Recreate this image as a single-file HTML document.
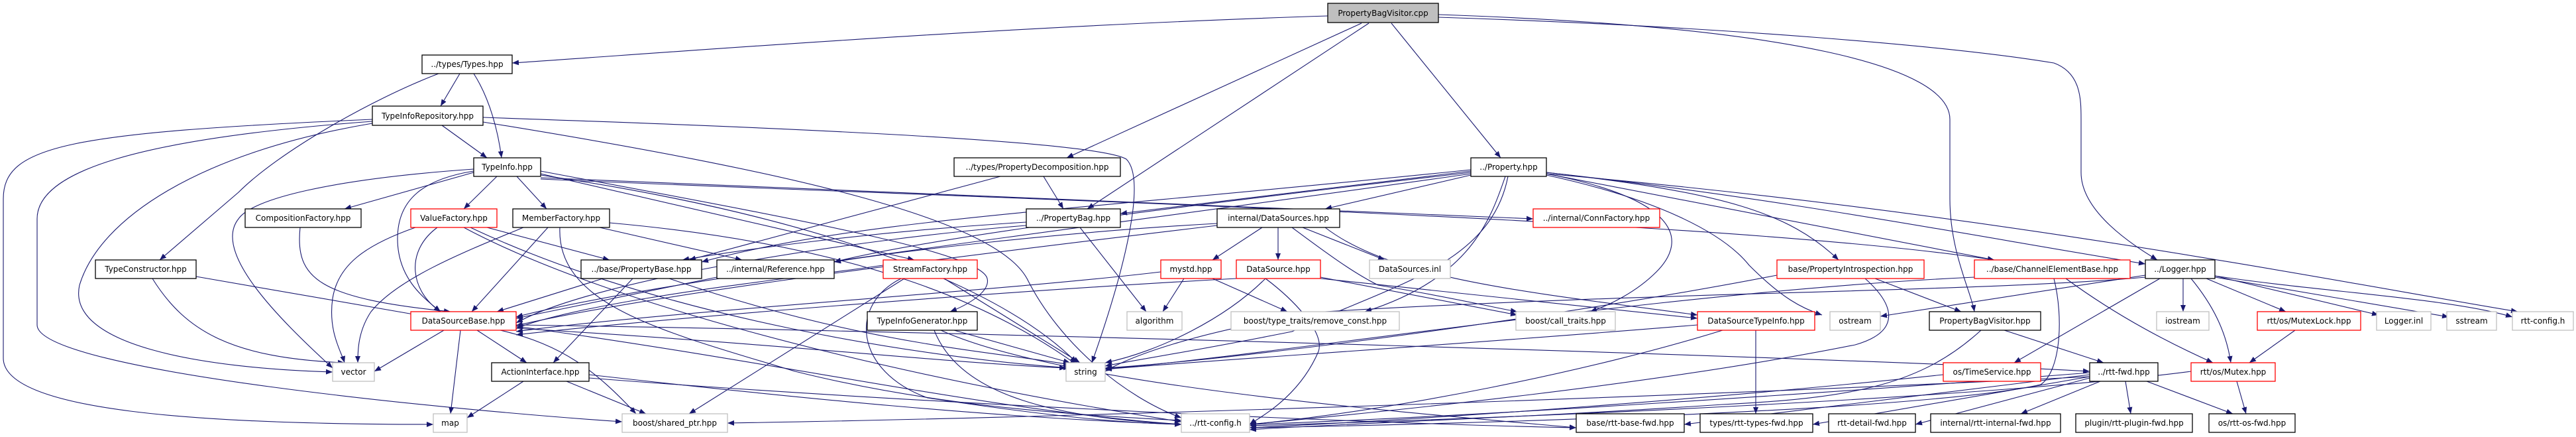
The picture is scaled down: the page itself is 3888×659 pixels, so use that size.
<!DOCTYPE html>
<html><head><meta charset="utf-8"><style>
html,body{margin:0;padding:0;background:#fff;}
svg{display:block;}
text{font-family:"DejaVu Sans","Liberation Sans",sans-serif;font-size:12px;fill:#000;}
.e{fill:none;stroke:#191970;stroke-width:1.1;marker-end:url(#a);}
.n{fill:#fff;stroke:#000;stroke-width:1.3;}
.r{fill:#fff;stroke:#ff0000;stroke-width:1.3;}
.g{fill:#fff;stroke:#bfbfbf;stroke-width:1.3;}
</style></head><body>
<svg width="3888" height="659" viewBox="0 0 3888 659" xmlns="http://www.w3.org/2000/svg">
<defs><marker id="a" viewBox="0 0 10 8" refX="10" refY="4" markerWidth="10" markerHeight="8" markerUnits="userSpaceOnUse" orient="auto"><path d="M0,0 L10,4 L0,8 z" fill="#191970"/></marker></defs>
<g>
<path class="e" d="M2004,24 C1500,40 1000,80 773,95"/>
<path class="e" d="M2055,35 L1610,238"/>
<path class="e" d="M2066,35 L1641,315"/>
<path class="e" d="M2100,35 L2265,238"/>
<path class="e" d="M2171,22 C2700,40 2943,100 2943,180 L2943,300 C2943,380 2975,440 2980,470"/>
<path class="e" d="M2171,26 C2600,40 2950,70 3100,95 C3141,110 3141,150 3141,180 L3141,260 C3141,320 3220,370 3256,392"/>
<path class="e" d="M694,111 L665,160"/>
<path class="e" d="M715,111 C740,150 752,200 757,238"/>
<path class="e" d="M662,111 C560,150 420,230 360,290 L241,392"/>
<path class="e" d="M667,189 L735,238"/>
<path class="e" d="M562,180 C100,200 5,220 5,300 L5,540 C5,620 300,640 654,640"/>
<path class="e" d="M562,183 C200,210 56,260 56,330 L56,490 C56,560 700,620 939,636"/>
<path class="e" d="M562,186 C300,230 150,330 120,430 C100,520 300,555 502,561"/>
<path class="e" d="M729,177 C1100,190 1650,210 1700,240 C1730,270 1700,400 1648,547"/>
<path class="e" d="M729,184 C1200,260 1500,330 1550,420 C1600,520 1700,600 1783,630"/>
<path class="e" d="M715,260 L520,315"/>
<path class="e" d="M750,266 L700,315"/>
<path class="e" d="M780,266 L825,315"/>
<path class="e" d="M715,258 C640,270 600,300 600,360 C600,420 640,450 665,470"/>
<path class="e" d="M715,255 C500,270 380,300 360,330 C320,380 420,480 502,555"/>
<path class="e" d="M816,262 L1380,392"/>
<path class="e" d="M816,258 C1200,330 1480,380 1490,420 C1495,440 1460,460 1434,470"/>
<path class="e" d="M816,264 C1200,320 1500,420 1625,547"/>
<path class="e" d="M816,268 C1500,300 2000,320 2314,330"/>
<path class="e" d="M816,270 C1500,300 2600,330 3010,392"/>
<path class="e" d="M2220,258 L1691,322"/>
<path class="e" d="M2220,264 L2000,315"/>
<path class="e" d="M2220,256 C1600,320 1300,330 1059,395"/>
<path class="e" d="M2220,260 C1700,320 1400,360 1259,395"/>
<path class="e" d="M2220,262 C1600,350 1000,420 779,478"/>
<path class="e" d="M2272,266 C2250,330 2220,420 2060,470"/>
<path class="e" d="M2276,266 C2250,400 2100,430 1950,500 C1800,530 1700,545 1668,552"/>
<path class="e" d="M2334,262 C2530,300 2550,360 2500,410 C2470,440 2430,460 2400,470"/>
<path class="e" d="M2334,260 C2600,290 2700,320 2775,392"/>
<path class="e" d="M2334,262 L3010,392"/>
<path class="e" d="M2334,260 C2700,300 3000,360 3238,398"/>
<path class="e" d="M2334,262 C3000,320 3500,420 3800,470"/>
<path class="e" d="M2334,264 C2500,300 2600,350 2640,400 C2690,450 2720,465 2750,475"/>
<path class="e" d="M453,343 C445,420 480,450 680,470"/>
<path class="e" d="M627,343 C550,370 510,400 502,450 C495,500 515,530 520,547"/>
<path class="e" d="M660,343 C610,380 620,440 665,470"/>
<path class="e" d="M735,343 L920,392"/>
<path class="e" d="M700,343 C900,450 1300,560 1783,636"/>
<path class="e" d="M710,343 C1000,480 1400,540 1615,555"/>
<path class="e" d="M827,343 L712,470"/>
<path class="e" d="M790,343 C700,380 600,420 560,470 C540,500 540,530 540,547"/>
<path class="e" d="M905,343 L1120,392"/>
<path class="e" d="M920,336 C1300,370 1500,460 1625,550"/>
<path class="e" d="M845,343 C840,460 1000,500 1200,560 C1400,610 1600,625 1783,634"/>
<path class="e" d="M230,420 C280,500 350,540 520,547"/>
<path class="e" d="M296,417 L630,475"/>
<path class="e" d="M910,420 L750,470"/>
<path class="e" d="M955,420 L835,547"/>
<path class="e" d="M1010,420 C1300,520 1500,530 1615,550"/>
<path class="e" d="M1082,418 L779,480"/>
<path class="e" d="M1549,335 C1300,350 1100,380 1030,392"/>
<path class="e" d="M1630,343 L1730,470"/>
<path class="e" d="M1549,340 C1300,360 900,420 779,487"/>
<path class="e" d="M1575,266 L1605,315"/>
<path class="e" d="M1510,266 L1040,392"/>
<path class="e" d="M1905,343 L1830,392"/>
<path class="e" d="M1929,343 L1929,392"/>
<path class="e" d="M1966,343 L2090,392"/>
<path class="e" d="M1950,343 C2000,380 2040,410 2080,430 C2200,450 2260,465 2290,470"/>
<path class="e" d="M1837,340 C1500,380 1000,440 779,491"/>
<path class="e" d="M1837,337 C1600,350 1350,380 1259,395"/>
<path class="e" d="M2000,343 C2100,420 2300,440 2562,475"/>
<path class="e" d="M1333,400 C1200,420 900,450 779,495"/>
<path class="e" d="M1425,420 L1630,547"/>
<path class="e" d="M1365,420 L1040,624"/>
<path class="e" d="M1360,420 C1280,460 1290,560 1400,600 C1600,630 1700,638 1783,640"/>
<path class="e" d="M1787,420 L1755,470"/>
<path class="e" d="M1830,420 L1943,470"/>
<path class="e" d="M1752,410 C1500,440 1000,470 779,500"/>
<path class="e" d="M1866,420 C1500,440 1000,480 779,505"/>
<path class="e" d="M1910,420 C1850,480 1750,530 1668,547"/>
<path class="e" d="M1993,418 L2290,475"/>
<path class="e" d="M1993,420 L2562,480"/>
<path class="e" d="M1910,420 C1950,450 2000,500 1990,530 C1960,600 1900,630 1886,640"/>
<path class="e" d="M670,498 L565,560"/>
<path class="e" d="M695,498 L680,624"/>
<path class="e" d="M720,498 L795,547"/>
<path class="e" d="M755,498 C850,520 900,560 960,624"/>
<path class="e" d="M779,492 C1200,550 1500,620 1783,640"/>
<path class="e" d="M779,495 C1200,520 1400,545 1609,555"/>
<path class="e" d="M779,490 C1500,500 2800,540 3154,560"/>
<path class="e" d="M1440,498 L1615,547"/>
<path class="e" d="M1410,498 C1450,600 1600,630 1783,640"/>
<path class="e" d="M1420,498 C1600,580 2100,620 2379,645"/>
<path class="e" d="M790,575 L705,630"/>
<path class="e" d="M855,575 L975,624"/>
<path class="e" d="M889,565 C1200,600 1500,630 1783,640"/>
<path class="e" d="M889,570 C1400,610 2100,640 2379,645"/>
<path class="e" d="M2650,498 L2650,624"/>
<path class="e" d="M2562,490 C2200,520 1800,545 1668,557"/>
<path class="e" d="M2600,498 C2400,560 2100,620 1886,640"/>
<path class="e" d="M2830,420 L2960,470"/>
<path class="e" d="M2682,415 C2400,470 1900,540 1668,555"/>
<path class="e" d="M2815,420 C2860,460 2870,500 2800,520 C2500,580 2100,620 1886,640"/>
<path class="e" d="M3118,420 C3200,480 3280,520 3340,547"/>
<path class="e" d="M3100,420 C3115,480 3110,560 3080,580 C2900,620 2200,640 1886,645"/>
<path class="e" d="M2980,418 C2500,440 1900,540 1668,556"/>
<path class="e" d="M3238,415 L2838,477"/>
<path class="e" d="M3260,420 L3040,547"/>
<path class="e" d="M3295,420 L3295,470"/>
<path class="e" d="M3307,420 C3340,460 3360,500 3367,547"/>
<path class="e" d="M3330,420 L3450,470"/>
<path class="e" d="M3343,416 L3590,475"/>
<path class="e" d="M3343,418 L3696,478"/>
<path class="e" d="M3343,416 C3500,440 3700,450 3792,478"/>
<path class="e" d="M3238,418 C3000,440 2500,440 2000,470 C1800,500 1700,540 1668,560"/>
<path class="e" d="M3025,498 L3175,547"/>
<path class="e" d="M2990,498 C2900,580 2800,600 2600,610 C2300,630 2000,640 1886,648"/>
<path class="e" d="M2933,565 C2600,600 2200,630 1886,645"/>
<path class="e" d="M3154,565 L2542,640"/>
<path class="e" d="M3154,568 L2736,640"/>
<path class="e" d="M3154,570 L2891,640"/>
<path class="e" d="M3170,575 L3050,624"/>
<path class="e" d="M3208,575 L3216,624"/>
<path class="e" d="M3240,575 L3370,624"/>
<path class="e" d="M3154,562 C2800,590 2200,630 1886,640"/>
<path class="e" d="M3464,498 L3395,547"/>
<path class="e" d="M3376,575 L3390,624"/>
<path class="e" d="M3307,560 C3000,600 2300,630 1886,642"/>
<path class="e" d="M3154,568 C2500,600 1600,630 1098,638"/>
</g>
<g>
<rect x="2004" y="5" width="167" height="29" fill="#bfbfbf" stroke="#000" stroke-width="1.3"/><text x="2087.5" y="24" text-anchor="middle">PropertyBagVisitor.cpp</text>
<rect class="n" x="637" y="83" width="136" height="28"/><text x="705" y="101" text-anchor="middle">../types/Types.hpp</text>
<rect class="n" x="562" y="160" width="167" height="29"/><text x="645.5" y="179" text-anchor="middle">TypeInfoRepository.hpp</text>
<rect class="n" x="1440" y="238" width="251" height="28"/><text x="1565.5" y="256" text-anchor="middle">../types/PropertyDecomposition.hpp</text>
<rect class="n" x="715" y="238" width="101" height="28"/><text x="765.5" y="256" text-anchor="middle">TypeInfo.hpp</text>
<rect class="n" x="2220" y="238" width="114" height="28"/><text x="2277" y="256" text-anchor="middle">../Property.hpp</text>
<rect class="n" x="370" y="315" width="175" height="28"/><text x="457.5" y="333" text-anchor="middle">CompositionFactory.hpp</text>
<rect class="r" x="620" y="315" width="130" height="28"/><text x="685" y="333" text-anchor="middle">ValueFactory.hpp</text>
<rect class="n" x="774" y="315" width="146" height="28"/><text x="847" y="333" text-anchor="middle">MemberFactory.hpp</text>
<rect class="n" x="1549" y="315" width="142" height="28"/><text x="1620" y="333" text-anchor="middle">../PropertyBag.hpp</text>
<rect class="n" x="1837" y="315" width="185" height="28"/><text x="1929.5" y="333" text-anchor="middle">internal/DataSources.hpp</text>
<rect class="r" x="2314" y="315" width="191" height="28"/><text x="2409.5" y="333" text-anchor="middle">../internal/ConnFactory.hpp</text>
<rect class="n" x="144" y="392" width="152" height="28"/><text x="220" y="410" text-anchor="middle">TypeConstructor.hpp</text>
<rect class="n" x="877" y="392" width="182" height="28"/><text x="968" y="410" text-anchor="middle">../base/PropertyBase.hpp</text>
<rect class="n" x="1082" y="392" width="177" height="28"/><text x="1170.5" y="410" text-anchor="middle">../internal/Reference.hpp</text>
<rect class="r" x="1333" y="392" width="142" height="28"/><text x="1404" y="410" text-anchor="middle">StreamFactory.hpp</text>
<rect class="r" x="1752" y="392" width="91" height="28"/><text x="1797.5" y="410" text-anchor="middle">mystd.hpp</text>
<rect class="r" x="1866" y="392" width="127" height="28"/><text x="1929.5" y="410" text-anchor="middle">DataSource.hpp</text>
<rect class="g" x="2067" y="392" width="122" height="28"/><text x="2128" y="410" text-anchor="middle">DataSources.inl</text>
<rect class="r" x="2682" y="392" width="222" height="28"/><text x="2793" y="410" text-anchor="middle">base/PropertyIntrospection.hpp</text>
<rect class="r" x="2980" y="392" width="235" height="28"/><text x="3097.5" y="410" text-anchor="middle">../base/ChannelElementBase.hpp</text>
<rect class="n" x="3238" y="392" width="105" height="28"/><text x="3290.5" y="410" text-anchor="middle">../Logger.hpp</text>
<rect class="r" x="620" y="470" width="159" height="28"/><text x="699.5" y="488" text-anchor="middle">DataSourceBase.hpp</text>
<rect class="n" x="1309" y="470" width="166" height="28"/><text x="1392" y="488" text-anchor="middle">TypeInfoGenerator.hpp</text>
<rect class="g" x="1701" y="470" width="83" height="28"/><text x="1742.5" y="488" text-anchor="middle">algorithm</text>
<rect class="g" x="1858" y="470" width="254" height="28"/><text x="1985" y="488" text-anchor="middle">boost/type_traits/remove_const.hpp</text>
<rect class="g" x="2288" y="470" width="150" height="28"/><text x="2363" y="488" text-anchor="middle">boost/call_traits.hpp</text>
<rect class="r" x="2562" y="470" width="177" height="28"/><text x="2650.5" y="488" text-anchor="middle">DataSourceTypeInfo.hpp</text>
<rect class="g" x="2762" y="470" width="76" height="28"/><text x="2800" y="488" text-anchor="middle">ostream</text>
<rect class="n" x="2912" y="470" width="168" height="28"/><text x="2996" y="488" text-anchor="middle">PropertyBagVisitor.hpp</text>
<rect class="g" x="3255" y="470" width="79" height="28"/><text x="3294.5" y="488" text-anchor="middle">iostream</text>
<rect class="r" x="3407" y="470" width="156" height="28"/><text x="3485" y="488" text-anchor="middle">rtt/os/MutexLock.hpp</text>
<rect class="g" x="3587" y="470" width="82" height="28"/><text x="3628" y="488" text-anchor="middle">Logger.inl</text>
<rect class="g" x="3693" y="470" width="75" height="28"/><text x="3730.5" y="488" text-anchor="middle">sstream</text>
<rect class="g" x="3792" y="470" width="92" height="28"/><text x="3838" y="488" text-anchor="middle">rtt-config.h</text>
<rect class="g" x="502" y="547" width="63" height="28"/><text x="533.5" y="565" text-anchor="middle">vector</text>
<rect class="n" x="742" y="547" width="147" height="28"/><text x="815.5" y="565" text-anchor="middle">ActionInterface.hpp</text>
<rect class="g" x="1609" y="547" width="59" height="28"/><text x="1638.5" y="565" text-anchor="middle">string</text>
<rect class="r" x="2933" y="547" width="147" height="28"/><text x="3006.5" y="565" text-anchor="middle">os/TimeService.hpp</text>
<rect class="n" x="3154" y="547" width="103" height="28"/><text x="3205.5" y="565" text-anchor="middle">../rtt-fwd.hpp</text>
<rect class="r" x="3307" y="547" width="127" height="28"/><text x="3370.5" y="565" text-anchor="middle">rtt/os/Mutex.hpp</text>
<rect class="g" x="654" y="624" width="51" height="28"/><text x="679.5" y="642" text-anchor="middle">map</text>
<rect class="g" x="939" y="624" width="159" height="28"/><text x="1018.5" y="642" text-anchor="middle">boost/shared_ptr.hpp</text>
<rect class="g" x="1783" y="624" width="103" height="28"/><text x="1834.5" y="642" text-anchor="middle">../rtt-config.h</text>
<rect class="n" x="2379" y="624" width="163" height="28"/><text x="2460.5" y="642" text-anchor="middle">base/rtt-base-fwd.hpp</text>
<rect class="n" x="2566" y="624" width="170" height="28"/><text x="2651" y="642" text-anchor="middle">types/rtt-types-fwd.hpp</text>
<rect class="n" x="2760" y="624" width="131" height="28"/><text x="2825.5" y="642" text-anchor="middle">rtt-detail-fwd.hpp</text>
<rect class="n" x="2914" y="624" width="196" height="28"/><text x="3012" y="642" text-anchor="middle">internal/rtt-internal-fwd.hpp</text>
<rect class="n" x="3133" y="624" width="176" height="28"/><text x="3221" y="642" text-anchor="middle">plugin/rtt-plugin-fwd.hpp</text>
<rect class="n" x="3334" y="624" width="130" height="28"/><text x="3399" y="642" text-anchor="middle">os/rtt-os-fwd.hpp</text>
</g>
</svg>
</body></html>
